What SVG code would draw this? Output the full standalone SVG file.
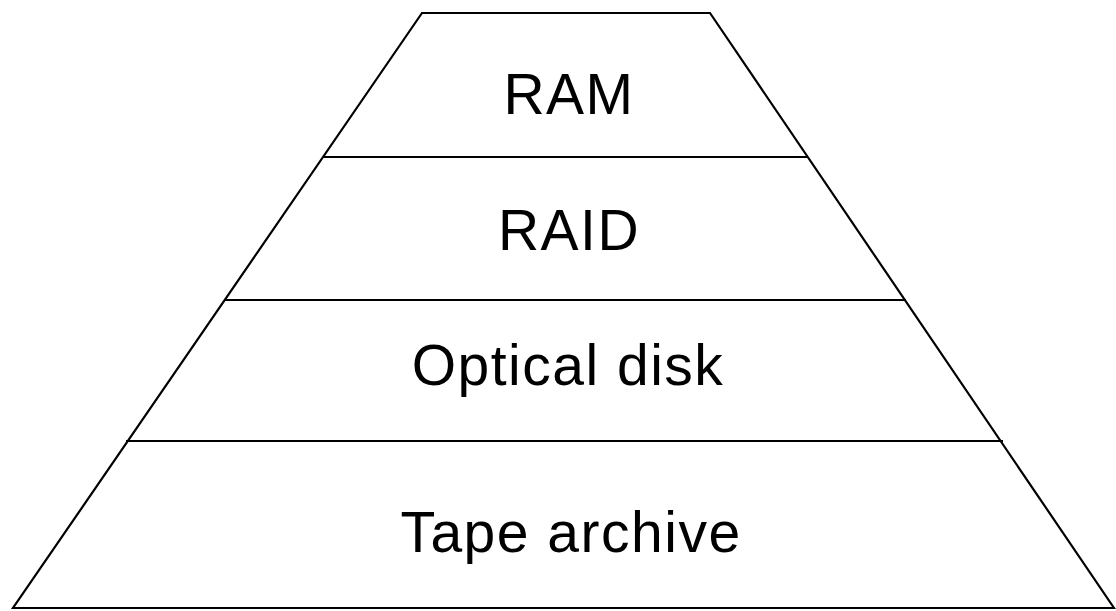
<svg xmlns="http://www.w3.org/2000/svg" width="1116" height="611" viewBox="0 0 1116 611">
<style>
.ln{stroke:#000;stroke-width:2.2;fill:none;stroke-linejoin:miter}
.t{font-family:"Liberation Sans",Arial,sans-serif;font-size:57px;letter-spacing:1.5px;fill:#000;text-anchor:middle}
</style>
<rect width="1116" height="611" fill="#fff"/>
<g id="pyramid">
<polygon class="ln" points="422,13 710,13 1114,608 13,608"/>
</g>
<g id="connectors">
<line class="ln" x1="323" y1="157" x2="808" y2="157"/>
<line class="ln" x1="225" y1="300" x2="906" y2="300"/>
<line class="ln" x1="126" y1="441" x2="1003" y2="441"/>
</g>
<g id="ram"><text class="t" x="569" y="114">RAM</text></g>
<g id="raid"><text class="t" x="569" y="250">RAID</text></g>
<g id="optical"><text class="t" x="568" y="385">Optical disk</text></g>
<g id="tape"><text class="t" x="571" y="552">Tape archive</text></g>
</svg>
